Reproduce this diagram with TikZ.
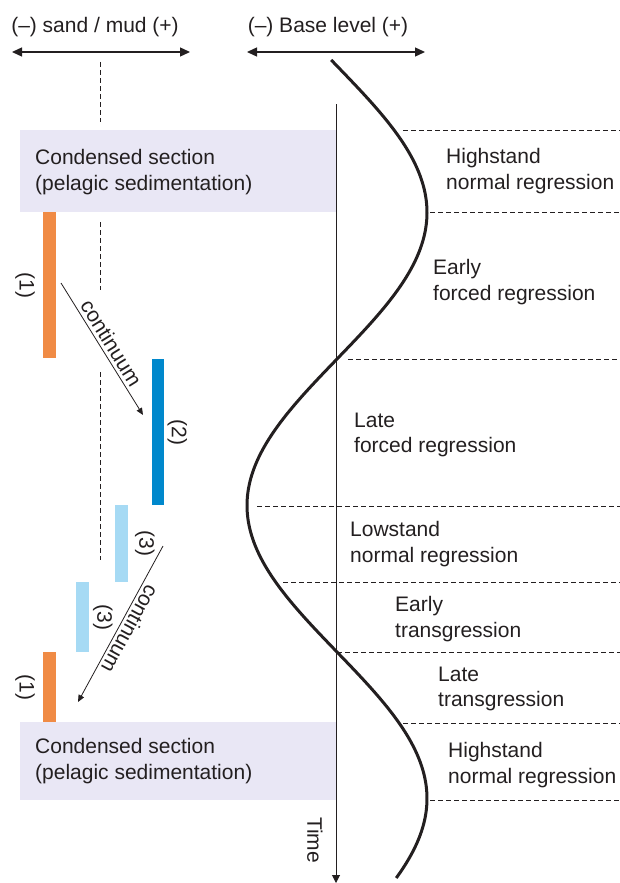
\documentclass[tikz,border=0pt]{standalone}
\usepackage{fontspec}
\setmainfont{Liberation Sans}
\usetikzlibrary{arrows.meta, positioning, calc}
\definecolor{inkgrey}{RGB}{35,31,32}
\definecolor{condfill}{RGB}{233,231,245}
\definecolor{sandorange}{RGB}{240,139,69}
\definecolor{mudblue}{RGB}{0,136,204}
\definecolor{paleblue}{RGB}{166,218,244}

\begin{document}
\begin{tikzpicture}[x=1pt, y=-1pt,
  lbl/.style={font=\fontsize{21}{25.5}\selectfont, text=inkgrey, align=left, inner sep=0pt},
  condbox/.style={fill=condfill, minimum width=316pt, anchor=north west, inner sep=0pt},
  facies/.style={minimum width=12.5pt, anchor=north west, inner sep=0pt},
  num/.style={lbl, rotate=-90},
  stage/.style={lbl, anchor=west},
  divider/.style={inkgrey, line width=0.6pt, dash pattern=on 5pt off 3pt},
  arr/.style={-{Triangle[length=7pt, width=6pt]}, inkgrey, line width=0.8pt},
  dblarr/.style={{Triangle[length=10pt, width=9pt]}-{Triangle[length=10pt, width=9pt]}, inkgrey, line width=1.3pt}
]
  \useasboundingbox (0,0) rectangle (620,883);

  \node[lbl] (grain) at (95,27) {(–) sand / mud (+)};
  \node[lbl] (base) at (328,27) {(–) Base level (+)};
  \coordinate (grainL) at (12,52);
  \coordinate (grainR) at (190,52);
  \coordinate (baseL) at (247,52);
  \coordinate (baseR) at (425,52);
  \draw[dblarr] (grainL) -- (grainR);
  \draw[dblarr] (baseL) -- (baseR);

  \foreach \ya/\yb in {62/122, 222/290, 372/560}
    \draw[divider] (100,\ya) -- (100,\yb);

  \node[condbox, minimum height=82pt] (cond1) at (20,130) {};
  \node[condbox, minimum height=78pt] (cond2) at (20,722) {};
  \node[stage] (cond1txt) at (35,172) {Condensed section\\(pelagic sedimentation)};
  \node[stage] (cond2txt) at (35,761) {Condensed section\\(pelagic sedimentation)};

  \node[facies, fill=sandorange, minimum height=146pt] (bar1) at (43,212) {};
  \node[facies, fill=mudblue, minimum height=146pt] (bar2) at (151.5,359) {};
  \node[facies, fill=paleblue, minimum height=77pt] (bar3) at (115,505) {};
  \node[facies, fill=paleblue, minimum height=70pt] (bar4) at (76,582) {};
  \node[facies, fill=sandorange, minimum height=70pt] (bar5) at (43,652) {};

  \node[num] (n1) at ([xshift=-18pt]bar1.west) {(1)};
  \node[num] (n2) at ([xshift=13pt]bar2.east) {(2)};
  \node[num] (n3) at ([xshift=17pt]bar3.east) {(3)};
  \node[num] (n4) at ([xshift=14pt]bar4.east) {(3)};
  \node[num] (n5) at ([xshift=-18pt]bar5.west) {(1)};

  \coordinate (c1a) at (61,283);
  \coordinate (c1b) at (143,415);
  \coordinate (c2a) at (163,546);
  \coordinate (c2b) at (78,702);
  \draw[arr] (c1a) -- node[lbl, sloped, above=3pt] (cont1) {continuum} (c1b);
  \draw[arr] (c2a) -- node[lbl, sloped, allow upside down, above=3pt] (cont2) {continuum} (c2b);

  \foreach \yy/\xs in {130/403, 212/430, 359/348, 506/257, 582/283, 652/337, 723/403, 800/430}
    \draw[divider] (\xs,\yy) -- (620,\yy);

  \coordinate (tTop) at (336,104);
  \coordinate (tEnd) at (336,883);
  \draw[-{Triangle[length=8pt, width=8pt]}, inkgrey, line width=1pt] (tTop) -- (tEnd);
  \node[num] (time) at (315,840) {Time};

  \draw[inkgrey, line width=3pt] plot[domain=60:878, samples=140, smooth] ({337+90*cos(0.61433*(\x-212.5))}, \x);

  \node[stage] (hs1) at (446,171) {Highstand\\normal regression};
  \node[stage] (efr) at (433,282) {Early\\forced regression};
  \node[stage] (lfr) at (354,435) {Late\\forced regression};
  \node[stage] (lnr) at (350,544) {Lowstand\\normal regression};
  \node[stage] (etr) at (395,619) {Early\\transgression};
  \node[stage] (ltr) at (438,689) {Late\\transgression};
  \node[stage] (hs2) at (448,765) {Highstand\\normal regression};
\end{tikzpicture}
\end{document}
